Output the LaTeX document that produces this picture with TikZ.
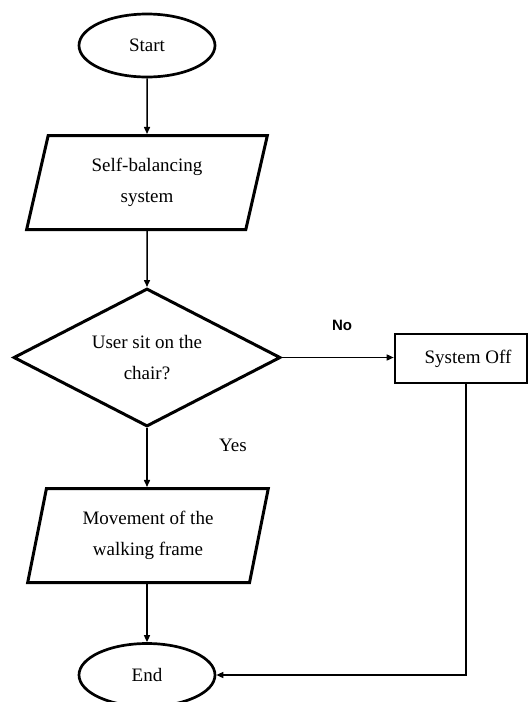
\documentclass[tikz,border=0pt]{standalone}
\usepackage{fontspec}
\setmainfont{Liberation Serif}
\newfontfamily\labelsans{Liberation Sans}
\usetikzlibrary{shapes.geometric,arrows.meta}
\tikzset{
  base/.style={draw=black, line width=3pt, inner sep=0pt, align=center,
    font=\fontsize{19}{31}\selectfont},
  term/.style={base, line width=2.7pt, ellipse, minimum width=136pt, minimum height=63pt},
  io/.style={base, trapezium, trapezium left angle=76, trapezium right angle=104,
    trapezium stretches=true, minimum width=241pt, minimum height=94pt},
  decide/.style={base, diamond, aspect=2, minimum width=267pt, minimum height=138pt},
  proc/.style={base, rectangle, line width=2.6pt, minimum width=132pt, minimum height=49pt},
  conn/.style={draw=black, line width=1.5pt, -{Triangle[length=7pt,width=6pt]}},
  lbl/.style={inner sep=0pt}
}
\begin{document}
\begin{tikzpicture}[x=1pt,y=-1pt]
\useasboundingbox (0,0) rectangle (531,702);
\node[term] (start) at (147,45.5) {Start};
\node[io] (p1) at (147,182.5) {Self-balancing\\system};
\node[decide] (dec) at (147,357.5) {User sit on the\\chair?};
\node[proc] (off) at (461,358.5) {\hspace*{14pt}System Off};
\node[io] (p2) at (148,535.5) {Movement of the\\walking frame};
\node[term] (end) at (147,675) {End};
\node[lbl, font=\labelsans\bfseries\fontsize{15}{18}\selectfont] (no) at (342,325) {No};
\node[lbl, font=\fontsize{19}{23}\selectfont] (yes) at (233,445) {Yes};
\coordinate (offout) at ([xshift=5pt]off.south);
\draw[conn] (start.south) -- (p1.north);
\draw[conn] (p1.south) -- (dec.north);
\draw[conn] (dec.east) -- (dec.east -| off.west);
\draw[conn] (dec.south) -- (dec.south |- p2.north);
\draw[conn] (dec.south |- p2.south) -- (dec.south |- end.north);
\draw[conn] (offout) |- (end.east);
\end{tikzpicture}
\end{document}
